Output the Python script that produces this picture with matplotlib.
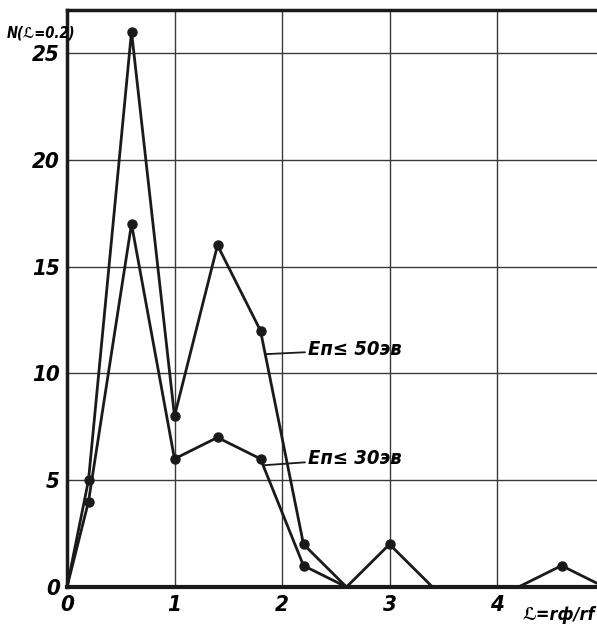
import matplotlib
matplotlib.use("Agg")
import matplotlib.pyplot as plt

# ---- data ----
alpha_50 = [0, 0.2, 0.6, 1.0, 1.4, 1.8, 2.2, 2.6]
n_50 = [0, 5, 26, 8, 16, 12, 2, 0]
alpha_30 = [0, 0.2, 0.6, 1.0, 1.4, 1.8, 2.2, 2.6, 3.0, 3.4, 4.2, 4.6, 5.0]
n_30 = [0, 4, 17, 6, 7, 6, 1, 0, 2, 0, 0, 1, 0]
x_ticks = [0, 1, 2, 3, 4]
y_ticks = [0, 5, 10, 15, 20, 25]
label_50 = "Eп≤ 50эв"
label_30 = "Eп≤ 30эв"
y_label = "N(ℒ=0.2)"
x_label = "ℒ=rф/rf"

plt.rcParams['font.family'] = ['DejaVu Sans']
plt.rcParams['font.stretch'] = 'condensed'
plt.rcParams['font.weight'] = 'bold'
plt.rcParams['font.style'] = 'italic'

TXT = dict(fontweight='bold', fontstyle='italic', fontstretch='condensed')

fig = plt.figure(figsize=(5.97, 6.36), dpi=100)
ax = fig.add_axes([67/597, 49/636, 530/597, 577/636])

ax.set_xlim(0, 530/107.5)
ax.set_ylim(0, 577/21.36)

for xs, ys in ((alpha_50, n_50), (alpha_30, n_30)):
    marks = [i for i, v in enumerate(ys) if v > 0]
    ax.plot(xs, ys, color='#1a1a1a', lw=2.0, marker='o', ms=6.5,
            markevery=marks, solid_joinstyle='miter', zorder=3, clip_on=False)

ax.set_xticks(x_ticks)
ax.set_yticks(y_ticks)
ax.set_xticklabels([str(v) for v in x_ticks], fontsize=16, **TXT)
ax.set_yticklabels([str(v) for v in y_ticks], fontsize=16, **TXT)
ax.tick_params(length=0, pad=5)
ax.tick_params(axis='x', pad=6)

ax.grid(True, color='#3a3a3a', lw=1.0)
ax.set_axisbelow(True)

ax.spines['right'].set_visible(False)
ax.spines['left'].set_linewidth(2.5)
ax.spines['bottom'].set_linewidth(3.0)
ax.spines['top'].set_linewidth(2.5)
for s in ax.spines.values():
    s.set_color('#1a1a1a')

ax.annotate(label_50, xy=(1.84, 10.9), xytext=(2.24, 11.1),
            fontsize=14.5, va='center', ha='left', **TXT,
            arrowprops=dict(arrowstyle='-', color='#1a1a1a', lw=1.3, shrinkA=0, shrinkB=0))
ax.annotate(label_30, xy=(1.83, 5.7), xytext=(2.24, 6.0),
            fontsize=14.5, va='center', ha='left', **TXT,
            arrowprops=dict(arrowstyle='-', color='#1a1a1a', lw=1.3, shrinkA=0, shrinkB=0))

fig.text(7/597, 1 - 33/636, y_label, fontsize=10.5, ha='left', va='center', **TXT)
fig.text(595/597, 1 - 615/636, x_label, fontsize=13, ha='right', va='center', **TXT)

fig.savefig("out.png", dpi=100, facecolor='white')
